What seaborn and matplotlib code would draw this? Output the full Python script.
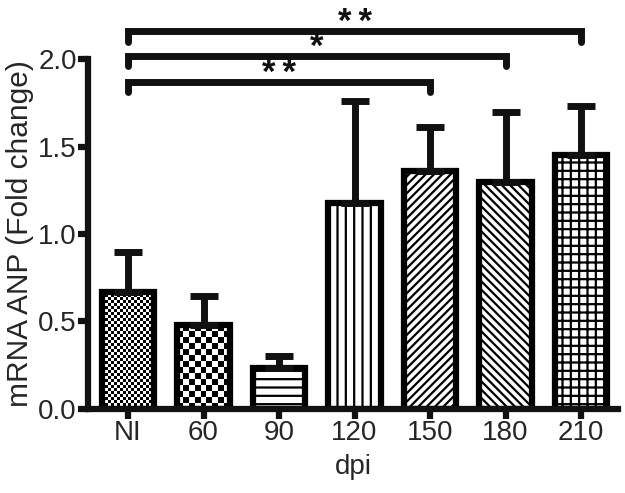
import matplotlib
matplotlib.use("Agg")
import matplotlib.pyplot as plt
import numpy as np
import pandas as pd
import seaborn as sns

# values
groups = ["NI", "60", "90", "120", "150", "180", "210"]
means = [0.67, 0.48, 0.235, 1.18, 1.36, 1.30, 1.45]
sem = [0.23, 0.165, 0.065, 0.58, 0.25, 0.40, 0.28]
# (start group, end group, label)
comparisons = [(0, 4, "**"), (0, 5, "*"), (0, 6, "**")]
bracket_y = [1.87, 2.02, 2.16]

sns.set_style("ticks")
plt.rcParams["font.family"] = ["Liberation Sans", "DejaVu Sans"]
plt.rcParams["hatch.linewidth"] = 1.6
plt.rcParams["hatch.color"] = "black"

df = pd.DataFrame({"dpi": groups, "ANP": means})

fig = plt.figure(figsize=(6.25, 4.93), dpi=100)
ax = fig.add_axes([0.1408, 0.1704, 0.848, 0.7099])

sns.barplot(data=df, x="dpi", y="ANP", color="white", edgecolor="black",
            linewidth=4.5, width=0.7, errorbar=None, ax=ax)

ax.set_xlim(-0.53, 6.49)
ax.set_ylim(0, 2.0)

patches = list(ax.patches)
centers = [p.get_x() + p.get_width() / 2 for p in patches]

# hatches for the striped bars, checkerboards (cell size px) for the first two
pattern = [3, 6, "--", "||", "////", "\\\\\\\\", "++"]
for p, pat in zip(patches, pattern):
    p.set_facecolor("white")
    if isinstance(pat, str):
        p.set_hatch(pat)
    else:
        p.set_facecolor("none")
        x0, w, h = p.get_x(), p.get_width(), p.get_height()
        (px0, py0), (px1, py1) = ax.transData.transform([(x0, 0), (x0 + w, h)])
        ncol = max(1, int(round((px1 - px0) / pat)))
        cell_y = (ax.transData.inverted().transform((0, py0 + pat))[1])
        nrow = int(np.ceil(h / cell_y)) + 1
        board = np.add.outer(np.arange(nrow), np.arange(ncol)) % 2
        im = ax.imshow(board, cmap="gray", extent=(x0, x0 + w, 0, nrow * cell_y),
                       aspect="auto", interpolation="nearest", origin="lower",
                       zorder=p.get_zorder() - 0.5)
        im.set_clip_path(p)

ax.set_xlim(-0.53, 6.49)
ax.set_ylim(0, 2.0)

ax.errorbar(centers, means, yerr=[np.zeros(len(means)), sem], fmt="none",
            ecolor="#111111", elinewidth=5, capsize=10, capthick=5, zorder=1)

for (a, b, lab), y in zip(comparisons, bracket_y):
    ax.plot([centers[a], centers[a], centers[b], centers[b]],
            [y - 0.06, y, y, y - 0.06], color="#111111", lw=5,
            solid_joinstyle="miter", clip_on=False)
    ax.text((centers[a] + centers[b]) / 2, y - 0.005, "\u2009".join(lab),
            ha="center", va="baseline", fontsize=25, fontweight="bold",
            color="#111111")

sns.despine(ax=ax)
for s in ["left", "bottom"]:
    ax.spines[s].set_linewidth(4.5)
    ax.spines[s].set_color("#111111")
ax.tick_params(axis="both", length=7, width=4.5, color="#111111",
               labelsize=20, pad=1)
ax.set_yticks([0.0, 0.5, 1.0, 1.5, 2.0])
ax.set_yticklabels(["0.0", "0.5", "1.0", "1.5", "2.0"])
ax.set_ylabel("mRNA ANP (Fold change)", fontsize=21.5, labelpad=3)
ax.set_xlabel("dpi", fontsize=20, labelpad=6)

fig.savefig("out.png", dpi=100)
